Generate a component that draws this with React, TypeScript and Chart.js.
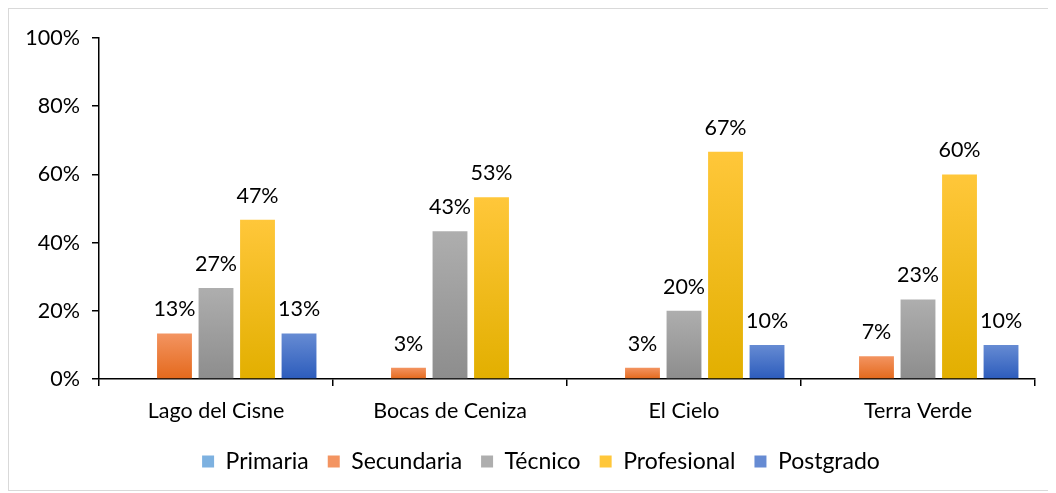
import React, { useEffect, useRef } from "react";
import { Chart, registerables } from "chart.js";

Chart.register(...registerables);

const categories = ["Lago del Cisne", "Bocas de Ceniza", "El Cielo", "Terra Verde"];
const seriesNames = ["Primaria", "Secundaria", "Técnico", "Profesional", "Postgrado"];
const primaria = [0, 0, 0, 0];
const secundaria = [13.33, 3.33, 3.33, 6.67];
const tecnico = [26.67, 43.33, 20, 23.33];
const profesional = [46.67, 53.33, 66.67, 60];
const postgrado = [13.33, 0, 10, 10];
const yTicks = [0, 20, 40, 60, 80, 100];

const gradients: [string, string][] = [
  ["#7DB1E0", "#4A8ACB"],
  ["#F39461", "#E4691C"],
  ["#AEAEAE", "#8D8D8D"],
  ["#FFC73A", "#E2AF00"],
  ["#668BD3", "#2C5CBC"],
];

const FONT = "Lato, 'Liberation Sans', sans-serif";
const FS = 21.5;

export default function App() {
  const ref = useRef<HTMLCanvasElement | null>(null);
  useEffect(() => {
    if (!ref.current) return;
    const allData = [primaria, secundaria, tecnico, profesional, postgrado];
    const labelPlugin = {
      id: "valueLabels",
      afterLayout(chart: any) {
        if (chart.legend) {
          chart.legend.left += 19;
          chart.legend.right += 19;
        }
      },
      afterDatasetsDraw(chart: any) {
        const ctx = chart.ctx;
        ctx.save();
        ctx.font = `${FS}px ${FONT}`;
        ctx.fillStyle = "#000";
        ctx.textAlign = "center";
        ctx.textBaseline = "middle";
        chart.data.datasets.forEach((ds: any, i: number) => {
          const meta = chart.getDatasetMeta(i);
          meta.data.forEach((el: any, j: number) => {
            const v = ds.data[j];
            if (!v) return;
            ctx.fillText(Math.round(v) + "%", el.x, el.y - 24);
          });
        });
        ctx.restore();
      },
    };
    const chart = new Chart(ref.current, {
      type: "bar",
      data: {
        labels: categories,
        datasets: allData.map((d, i) => ({
          label: seriesNames[i],
          data: d,
          backgroundColor: (c: any) => {
            const ch = c.chart;
            const y = ch.scales?.y;
            if (c.type !== "data" || !y || !ch.chartArea) return gradients[i][1];
            const top = y.getPixelForValue(c.raw || 0.0001);
            const base = y.getPixelForValue(0);
            if (!isFinite(top) || !isFinite(base) || top === base) return gradients[i][1];
            const g = ch.ctx.createLinearGradient(0, top, 0, base);
            g.addColorStop(0, gradients[i][0]);
            g.addColorStop(1, gradients[i][1]);
            return g;
          },
          borderWidth: 0,
          categoryPercentage: 0.887,
          barPercentage: 0.84,
        })),
      },
      options: {
        animation: false,
        responsive: false,
        maintainAspectRatio: false,
        layout: { padding: { top: 29, right: 13, bottom: 7, left: 0 } },
        plugins: {
          tooltip: { enabled: false },
          legend: {
            position: "bottom",
            labels: {
              font: { family: FONT, size: 23 },
              color: "#000",
              boxWidth: 12,
              boxHeight: 12,
              padding: 19,
              generateLabels: (chart: any) =>
                chart.data.datasets.map((ds: any, i: number) => ({
                  text: ds.label,
                  fillStyle: gradients[i][0],
                  strokeStyle: gradients[i][0],
                  lineWidth: 0,
                  datasetIndex: i,
                  hidden: false,
                })),
            },
          },
        },
        scales: {
          x: {
            grid: { display: true, drawOnChartArea: false, color: "#000", tickLength: 7, offset: true, lineWidth: 1.5 },
            border: { color: "#000", width: 1.5 },
            ticks: { font: { family: FONT, size: FS }, color: "#000", padding: 12 },
            afterFit: (s: any) => { s.height = 52; },
          },
          y: {
            min: 0,
            max: 100,
            afterBuildTicks: (s: any) => { s.ticks = yTicks.map((v) => ({ value: v })); },
            grid: { display: true, drawOnChartArea: false, color: "#000", tickLength: 7, lineWidth: 1.5 },
            border: { color: "#000", width: 1.5 },
            ticks: {
              font: { family: FONT, size: FS },
              color: "#000",
              padding: 12,
              callback: (v: any) => v + "%",
            },
            afterFit: (s: any) => { s.width = 90; },
          },
        },
      },
      plugins: [labelPlugin],
    } as any);
    return () => chart.destroy();
  }, []);
  return (
    <div style={{ width: 1041, height: 483, border: "1px solid #d9d9d9", boxSizing: "border-box" }}>
      <canvas ref={ref} width={1039} height={481} style={{ display: "block" }} />
    </div>
  );
}
